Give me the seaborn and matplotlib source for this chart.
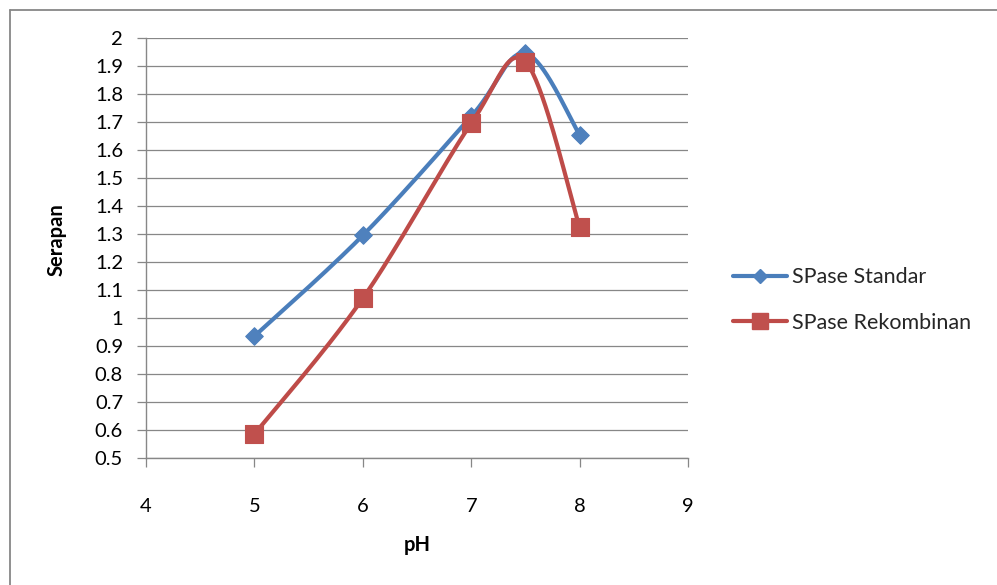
import numpy as np
import pandas as pd
import matplotlib
matplotlib.use("Agg")
import matplotlib.pyplot as plt
from matplotlib.lines import Line2D
import seaborn as sns

# Absorbance (Serapan) of the two SPase enzymes across pH
ph = [5, 6, 7, 7.5, 8]
spase_standar = [0.935, 1.295, 1.72, 1.945, 1.655]
spase_rekombinan = [0.585, 1.07, 1.695, 1.915, 1.325]
series_names = ["SPase Standar", "SPase Rekombinan"]
x_ticks = [4, 5, 6, 7, 8, 9]
y_ticks = [round(0.5 + 0.1 * i, 1) for i in range(16)]

BLUE = "#4F81BD"
BLUE_LINE = "#4A7EBB"
RED = "#C0504D"
RED_LINE = "#BE4B48"
GRID = "#878787"


def smooth_curve(xs, ys, n=40):
    """Bezier smoothing through the points (Catmull-Rom style control points)."""
    P = np.column_stack([xs, ys]).astype(float)
    segs = []
    for i in range(len(P) - 1):
        p0 = P[i - 1] if i > 0 else P[i]
        p1, p2 = P[i], P[i + 1]
        p3 = P[i + 2] if i + 2 < len(P) else P[i + 1]
        c1 = p1 + (p2 - p0) / 6.0
        c2 = p2 - (p3 - p1) / 6.0
        t = np.linspace(0, 1, n)[:, None]
        seg = ((1 - t) ** 3) * p1 + 3 * ((1 - t) ** 2) * t * c1 + 3 * (1 - t) * t ** 2 * c2 + t ** 3 * p2
        segs.append(seg if i == 0 else seg[1:])
    return np.vstack(segs)


sns.set_theme(style="white")
plt.rcParams["font.family"] = ["Lato", "DejaVu Sans"]

fig = plt.figure(figsize=(9.97, 5.85), dpi=100)
W, H = 997, 585
ax = fig.add_axes([146 / W, 1 - 458 / H, (688 - 146) / W, (458 - 38) / H])

# outer chart frame (top and left edges)
fig.add_artist(Line2D([10 / W, 10 / W], [0, 1 - 10 / H], color=GRID, lw=1.3, transform=fig.transFigure))
fig.add_artist(Line2D([10 / W, 1], [1 - 10 / H, 1 - 10 / H], color=GRID, lw=1.3, transform=fig.transFigure))

series = [
    (series_names[0], spase_standar, BLUE_LINE, BLUE, "D", 80),
    (series_names[1], spase_rekombinan, RED_LINE, RED, "s", 150),
]

for k, (name, vals, lc, mc, mk, ms) in enumerate(series):
    curve = smooth_curve(ph, vals)
    cdf = pd.DataFrame({"pH": curve[:, 0], "Serapan": curve[:, 1]})
    sns.lineplot(data=cdf, x="pH", y="Serapan", sort=False, estimator=None,
                 color=lc, lw=3.0, ax=ax, zorder=3 + 2 * k)
    pdf = pd.DataFrame({"pH": ph, "Serapan": vals})
    sns.scatterplot(data=pdf, x="pH", y="Serapan", marker=mk, s=ms, color=mc,
                    edgecolor=mc, linewidth=0.8, ax=ax, zorder=4 + 2 * k)

ax.set_xlim(4, 9)
ax.set_ylim(0.5, 2.0)
ax.set_xticks(x_ticks)
ax.set_xticklabels([str(v) for v in x_ticks])
ax.set_yticks(y_ticks)
ax.set_yticklabels([f"{v:g}" for v in y_ticks])

ax.yaxis.grid(True, color=GRID, lw=0.9)
ax.xaxis.grid(False)
for side in ("top", "right"):
    ax.spines[side].set_visible(False)
for side in ("left", "bottom"):
    ax.spines[side].set_color(GRID)
    ax.spines[side].set_linewidth(1.0)

ax.tick_params(axis="y", direction="out", length=6.5, width=0.9, color=GRID,
               pad=10, labelsize=14.5, labelcolor="black", left=True)
ax.tick_params(axis="x", direction="out", length=6.5, width=0.9, color=GRID,
               pad=22, labelsize=14.5, labelcolor="black", bottom=True)

ax.set_xlabel("pH", fontsize=14.5, fontweight="bold", color="black")
ax.set_ylabel("Serapan", fontsize=14.5, fontweight="bold", color="black")
ax.xaxis.set_label_coords(0.5, (458 - 545) / 420, transform=ax.transAxes)
ax.yaxis.set_label_coords((57 - 146) / 542, (458 - 240) / 420)
ax.xaxis.label.set_va("center")
ax.yaxis.label.set_va("center")

handles = [
    Line2D([], [], color=BLUE_LINE, lw=3.0, marker="D", markersize=7,
           markerfacecolor=BLUE, markeredgecolor=BLUE),
    Line2D([], [], color=RED_LINE, lw=3.0, marker="s", markersize=11,
           markerfacecolor=RED, markeredgecolor=RED),
]
fig.legend(handles, series_names, loc="center left",
           bbox_to_anchor=(733 / W, 1 - 300 / H), frameon=False,
           fontsize=15.5, handlelength=2.5, handletextpad=0.25,
           labelspacing=1.2, borderpad=0, borderaxespad=0)

fig.savefig("out.png", dpi=100, facecolor="white")
